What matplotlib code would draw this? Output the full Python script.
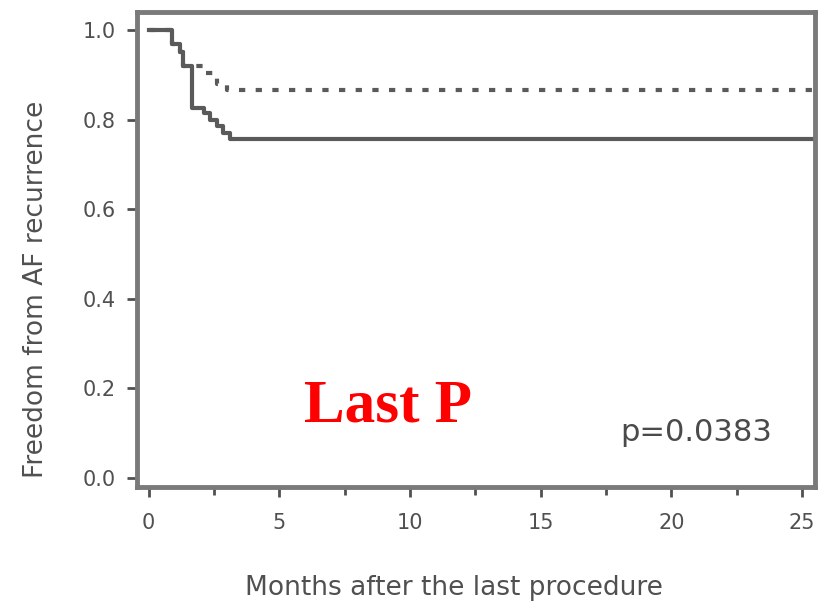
import numpy as np
import matplotlib.pyplot as plt

# Kaplan-Meier style step curves (months, freedom from AF recurrence)
solid_t = [0, 0.9, 1.2, 1.3, 1.65, 2.1, 2.35, 2.6, 2.85, 3.1, 25.5]
solid_s = [1.0, 0.97, 0.95, 0.92, 0.825, 0.815, 0.80, 0.785, 0.77, 0.757, 0.757]

dashed_t = [0, 0.9, 1.2, 1.3, 1.65, 2.2, 2.6, 3.0, 25.5]
dashed_s = [1.0, 0.97, 0.95, 0.92, 0.92, 0.905, 0.88, 0.867, 0.867]

x_ticks = [0, 5, 10, 15, 20, 25]
y_ticks = [0.0, 0.2, 0.4, 0.6, 0.8, 1.0]
y_tick_labels = ["0.0", "0.2", "0.4", "0.6", "0.8", "1.0"]

line_col = "#5a5a5a"
text_col = "#505050"

fig = plt.figure(figsize=(8.25, 6.1), dpi=100)
ax = fig.add_axes([0.166, 0.202, 0.822, 0.778])

ax.step(solid_t, solid_s, where="post", color=line_col, lw=3)
ax.step(dashed_t, dashed_s, where="post", color=line_col, lw=3,
        linestyle=(0, (1.5, 2.5)))

ax.set_xlim(-0.45, 25.5)
ax.set_ylim(-0.02, 1.04)
ax.set_xticks(x_ticks)
ax.set_xticks(np.arange(2.5, 25, 5), minor=True)
ax.set_yticks(y_ticks)
ax.set_yticklabels(y_tick_labels)

for sp in ax.spines.values():
    sp.set_color("#7a7a7a")
    sp.set_linewidth(3.5)

ax.tick_params(axis="both", colors=text_col, labelsize=15, width=2,
               length=7, direction="out")
ax.tick_params(axis="x", which="minor", colors=text_col, width=2, length=6)
ax.tick_params(axis="x", pad=12)
ax.tick_params(axis="y", pad=8)

ax.set_xlabel("Months after the last procedure", color=text_col, fontsize=19)
ax.xaxis.set_label_coords(0.468, -0.185)
ax.set_ylabel("Freedom from AF recurrence", color=text_col, fontsize=19)
ax.yaxis.set_label_coords(-0.13, 0.415)

ax.text(0.37, 0.17, "Last P", transform=ax.transAxes, color="red",
        fontsize=44, fontweight="bold", family="Liberation Serif",
        ha="center", va="center")
ax.text(0.825, 0.115, "p=0.0383", transform=ax.transAxes, color="#4a4a4a",
        fontsize=22, ha="center", va="center")

fig.savefig("out.png", dpi=100)
